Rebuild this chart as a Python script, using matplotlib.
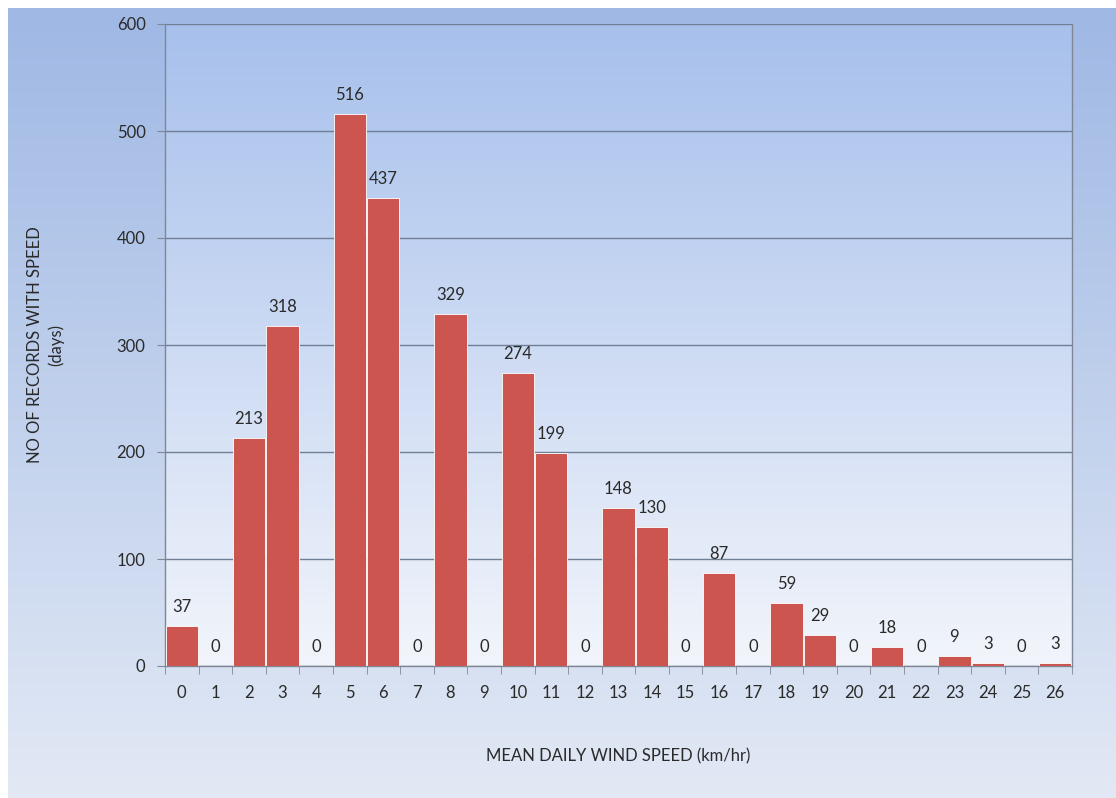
import numpy as np
import matplotlib.pyplot as plt
from matplotlib.colors import LinearSegmentedColormap

plt.rcParams['font.family'] = ['Lato', 'DejaVu Sans']

# wind speed classes (km/hr) and number of days recorded in each
speeds = list(range(27))
days = [37, 0, 213, 318, 0, 516, 437, 0, 329, 0, 274, 199, 0, 148, 130,
        0, 87, 0, 59, 29, 0, 18, 0, 9, 3, 0, 3]

bar_color = '#CD5550'
text_color = '#2A2A2A'


def vgradient(ax, top, bottom, extent, zorder):
    cmap = LinearSegmentedColormap.from_list('g', [bottom, top])
    grad = np.linspace(0, 1, 256).reshape(-1, 1)
    ax.imshow(grad, cmap=cmap, origin='lower', aspect='auto',
              extent=extent, zorder=zorder, interpolation='bicubic')


fig = plt.figure(figsize=(11.16, 7.98), dpi=100)
fig.patch.set_facecolor('white')

# outer chart panel
bg = fig.add_axes([8 / 1116, 0, 1 - 8 / 1116, 1 - 8 / 798])
bg.set_axis_off()
vgradient(bg, '#9FB8E4', '#E2E9F5', (0, 1, 0, 1), 0)
bg.set_xlim(0, 1)
bg.set_ylim(0, 1)

# plot area
left, right, top, bottom = 165, 1072, 24, 666
ax = fig.add_axes([left / 1116, 1 - bottom / 798,
                   (right - left) / 1116, (bottom - top) / 798])
vgradient(ax, '#A7C0EC', '#F2F5FB', (-0.5, len(speeds) - 0.5, 0, 600), 0)
ax.set_xlim(-0.5, len(speeds) - 0.5)
ax.set_ylim(0, 600)

ax.bar(speeds, days, width=0.96, color=bar_color, edgecolor='white',
       linewidth=0.6, zorder=3)

for x, v in zip(speeds, days):
    ax.annotate(str(v), (x, v), xytext=(0, 8), textcoords='offset points',
                ha='center', va='bottom', fontsize=12, color=text_color,
                zorder=4)

ax.set_yticks(range(0, 601, 100))
ax.yaxis.grid(True, color='#6F7F95', linewidth=1.0, zorder=1)
ax.set_axisbelow(True)
ax.set_xticks(speeds)
ax.set_xticklabels([str(s) for s in speeds])
ax.set_xticks(np.arange(-0.5, len(speeds), 1), minor=True)
ax.tick_params(axis='x', which='major', length=0, pad=14, labelsize=12,
               labelcolor=text_color)
ax.tick_params(axis='x', which='minor', length=6, color='#7F8796',
               direction='out')
ax.tick_params(axis='y', length=6, color='#7F8796', pad=8, labelsize=12,
               labelcolor=text_color)

for side in ['left', 'right', 'bottom']:
    ax.spines[side].set_color('#7F8796')
    ax.spines[side].set_linewidth(1.0)
ax.spines['top'].set_visible(False)

ax.set_ylabel('NO OF RECORDS WITH SPEED\n(days)', fontsize=12,
              color=text_color, labelpad=38, linespacing=1.3)
ax.set_xlabel('MEAN DAILY WIND SPEED (km/hr)', fontsize=12,
              color=text_color, labelpad=34)

fig.savefig('out.png', dpi=100, facecolor=fig.get_facecolor())
